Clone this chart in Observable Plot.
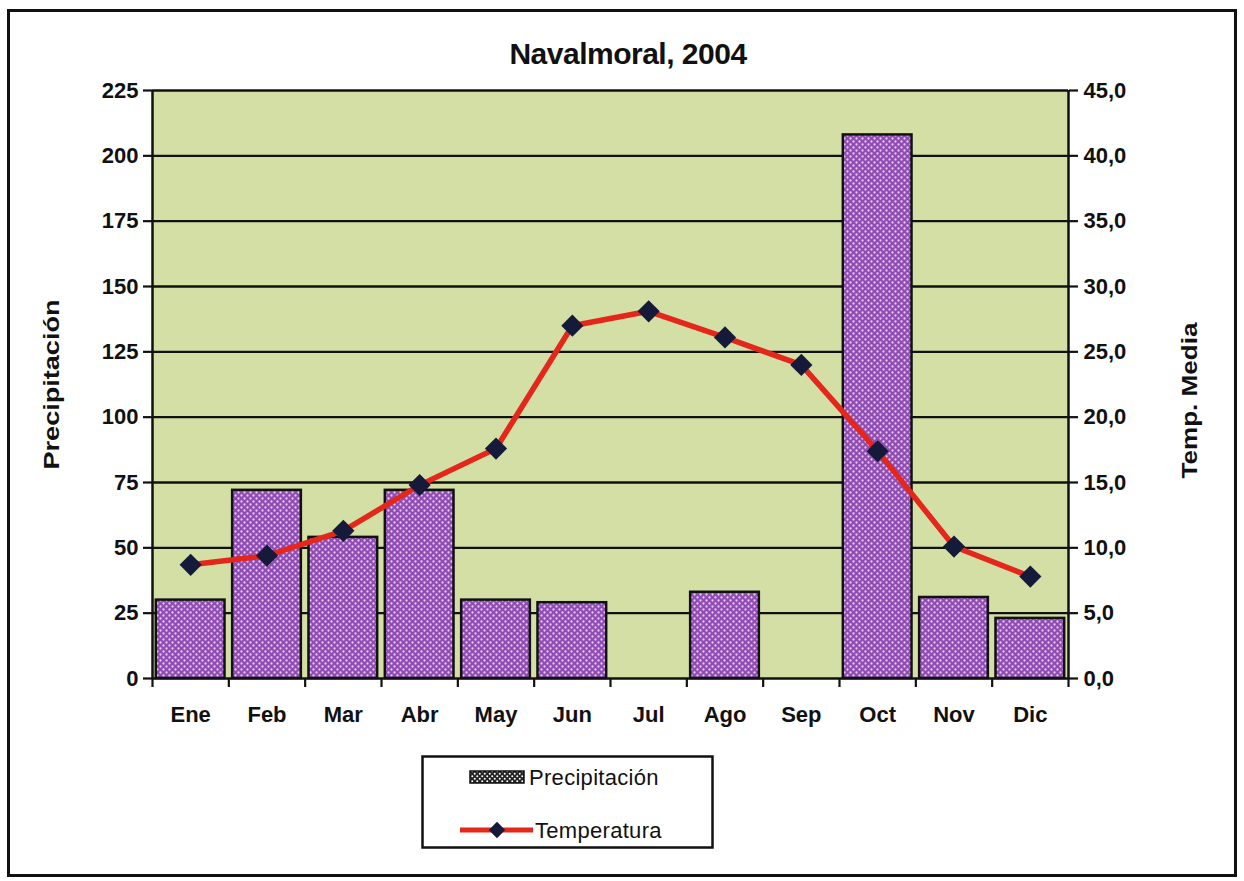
<!DOCTYPE html>
<html>
<head>
<meta charset="utf-8">
<script src="https://cdn.jsdelivr.net/npm/d3@7"></script>
<script src="https://cdn.jsdelivr.net/npm/@observablehq/plot@0.6"></script>
<style>
  body { margin: 0; background: #fff; font-family: "Liberation Sans", Arial, sans-serif; }
  #wrap { position: relative; width: 1244px; height: 881px; overflow: hidden; background: #fff; }
  #border { position: absolute; left: 7px; top: 9px; width: 1224px; height: 862px; border: 3px solid #111; }
  #title { position: absolute; top: 37px; left: 0; width: 1256px; text-align: center; font-weight: bold;
           font-size: 30px; color: #111; letter-spacing: -0.5px; }
  #chart { position: absolute; left: 0; top: 80px; }
  #legend { position: absolute; left: 421px; top: 755px; }
</style>
</head>
<body>
<div id="wrap">
  <div id="border"></div>
  <div id="title">Navalmoral, 2004</div>
  <div id="chart"></div>
  <div id="legend"></div>
</div>
<script>
const months = ["Ene","Feb","Mar","Abr","May","Jun","Jul","Ago","Sep","Oct","Nov","Dic"];
const precipitacion = [30, 72, 54, 72, 30, 29, 0, 33, 0, 208, 31, 23];
const temperatura = [8.7, 9.4, 11.3, 14.8, 17.6, 27.0, 28.1, 26.1, 24.0, 17.4, 10.1, 7.8];
const precipTicks = [0, 25, 50, 75, 100, 125, 150, 175, 200, 225];
const tempTicks = [0, 5, 10, 15, 20, 25, 30, 35, 40, 45];
const seriesNames = ["Precipitación", "Temperatura"];
const axisTitles = ["Precipitación", "Temp. Media"];

const ratio = 225 / 45;
const data = months.map((m, i) => ({m, i, p: precipitacion[i], t: temperatura[i]}));
const font = '"Liberation Sans", Arial, sans-serif';

const chart = Plot.plot({
  width: 1244, height: 670,
  marginLeft: 152, marginRight: 176, marginTop: 10, marginBottom: 72,
  x: {domain: [0, 12]},
  y: {domain: [0, 225]},
  style: {fontFamily: font, fontSize: "22px", fontWeight: "bold", color: "#111", background: "transparent", overflow: "visible"},
  marks: [
    Plot.frame({fill: "#d4dfa6", stroke: null}),
    Plot.ruleY(precipTicks, {stroke: "#111", strokeWidth: 2.4}),
    Plot.rectY(data.filter(d => d.p > 0), {
      x1: d => d.i + 0.05, x2: d => d.i + 0.95, y: "p",
      fill: "url(#dots)", stroke: "#111", strokeWidth: 2.5
    }),
    Plot.ruleX([0, 12], {stroke: "#111", strokeWidth: 2.5}),
    Plot.axisY(precipTicks, {anchor: "left", tickSize: 9, tickPadding: 5, strokeWidth: 2.2, label: null}),
    Plot.axisY(tempTicks.map(t => t * ratio), {
      anchor: "right", tickSize: 9, tickPadding: 6, strokeWidth: 2.2, label: null,
      tickFormat: d => (d / ratio).toFixed(1).replace(".", ",")
    }),
    Plot.axisX(d3.range(13), {anchor: "bottom", tickSize: 9, strokeWidth: 2.2, tickFormat: () => "", label: null}),
    Plot.axisX(d3.range(12).map(i => i + 0.5), {
      anchor: "bottom", tickSize: 0, tickPadding: 28, label: null,
      tickFormat: d => months[Math.floor(d)]
    }),
    Plot.line(data, {x: d => d.i + 0.5, y: d => d.t * ratio, stroke: "#e3271b", strokeWidth: 5.5}),
    Plot.dot(data, {x: d => d.i + 0.5, y: d => d.t * ratio, symbol: "diamond2", r: 10, fill: "#161a3a", stroke: "none"}),
    Plot.text([axisTitles[0]], {text: d => d, frameAnchor: "left", textAnchor: "middle", dx: -101, rotate: -90, fontSize: 22, fontWeight: "bold"}),
    Plot.text([axisTitles[1]], {text: d => d, frameAnchor: "right", textAnchor: "middle", dx: 121, dy: 16, rotate: -90, fontSize: 22, fontWeight: "bold"})
  ]
});

d3.select(chart).insert("defs", ":first-child").html(`
  <pattern id="dots" width="6" height="6" patternUnits="userSpaceOnUse">
    <rect width="6" height="6" fill="#8f4cb2"/>
    <circle cx="1.5" cy="1.5" r="1.15" fill="#e8caf2"/>
    <circle cx="4.5" cy="4.5" r="1.15" fill="#e8caf2"/>
  </pattern>`);
// stretch the axis titles to the reference's length
d3.select(chart).selectAll("text").each(function() {
  const t = this.textContent;
  if (t === axisTitles[0]) d3.select(this).attr("textLength", 170).attr("lengthAdjust", "spacingAndGlyphs");
  if (t === axisTitles[1]) d3.select(this).attr("textLength", 156).attr("lengthAdjust", "spacingAndGlyphs");
});
document.getElementById("chart").appendChild(chart);

// Legend
const leg = d3.select("#legend").append("svg").attr("width", 294).attr("height", 96);
leg.append("defs").html(`
  <pattern id="dotsL" width="5" height="5" patternUnits="userSpaceOnUse">
    <rect width="5" height="5" fill="#222"/>
    <circle cx="1.25" cy="1.25" r="1" fill="#fff"/>
    <circle cx="3.75" cy="3.75" r="1" fill="#fff"/>
  </pattern>`);
leg.append("rect").attr("x", 1.5).attr("y", 1.5).attr("width", 290).attr("height", 91)
  .attr("fill", "#fff").attr("stroke", "#111").attr("stroke-width", 2.5);
leg.append("rect").attr("x", 49).attr("y", 16).attr("width", 54).attr("height", 12)
  .attr("fill", "url(#dotsL)").attr("stroke", "#111").attr("stroke-width", 1.5);
leg.append("text").attr("x", 108).attr("y", 30).text(seriesNames[0])
  .attr("font-family", font).attr("font-size", 22).attr("fill", "#111").attr("letter-spacing", 0.3);
leg.append("line").attr("x1", 39).attr("x2", 112).attr("y1", 75).attr("y2", 75)
  .attr("stroke", "#e3271b").attr("stroke-width", 5);
leg.append("path").attr("d", d3.symbol(d3.symbolDiamond2, 170)()).attr("transform", "translate(76,75)").attr("fill", "#161a3a");
leg.append("text").attr("x", 114).attr("y", 83).text(seriesNames[1])
  .attr("font-family", font).attr("font-size", 22).attr("fill", "#111").attr("letter-spacing", 0.3);
</script>
</body>
</html>
